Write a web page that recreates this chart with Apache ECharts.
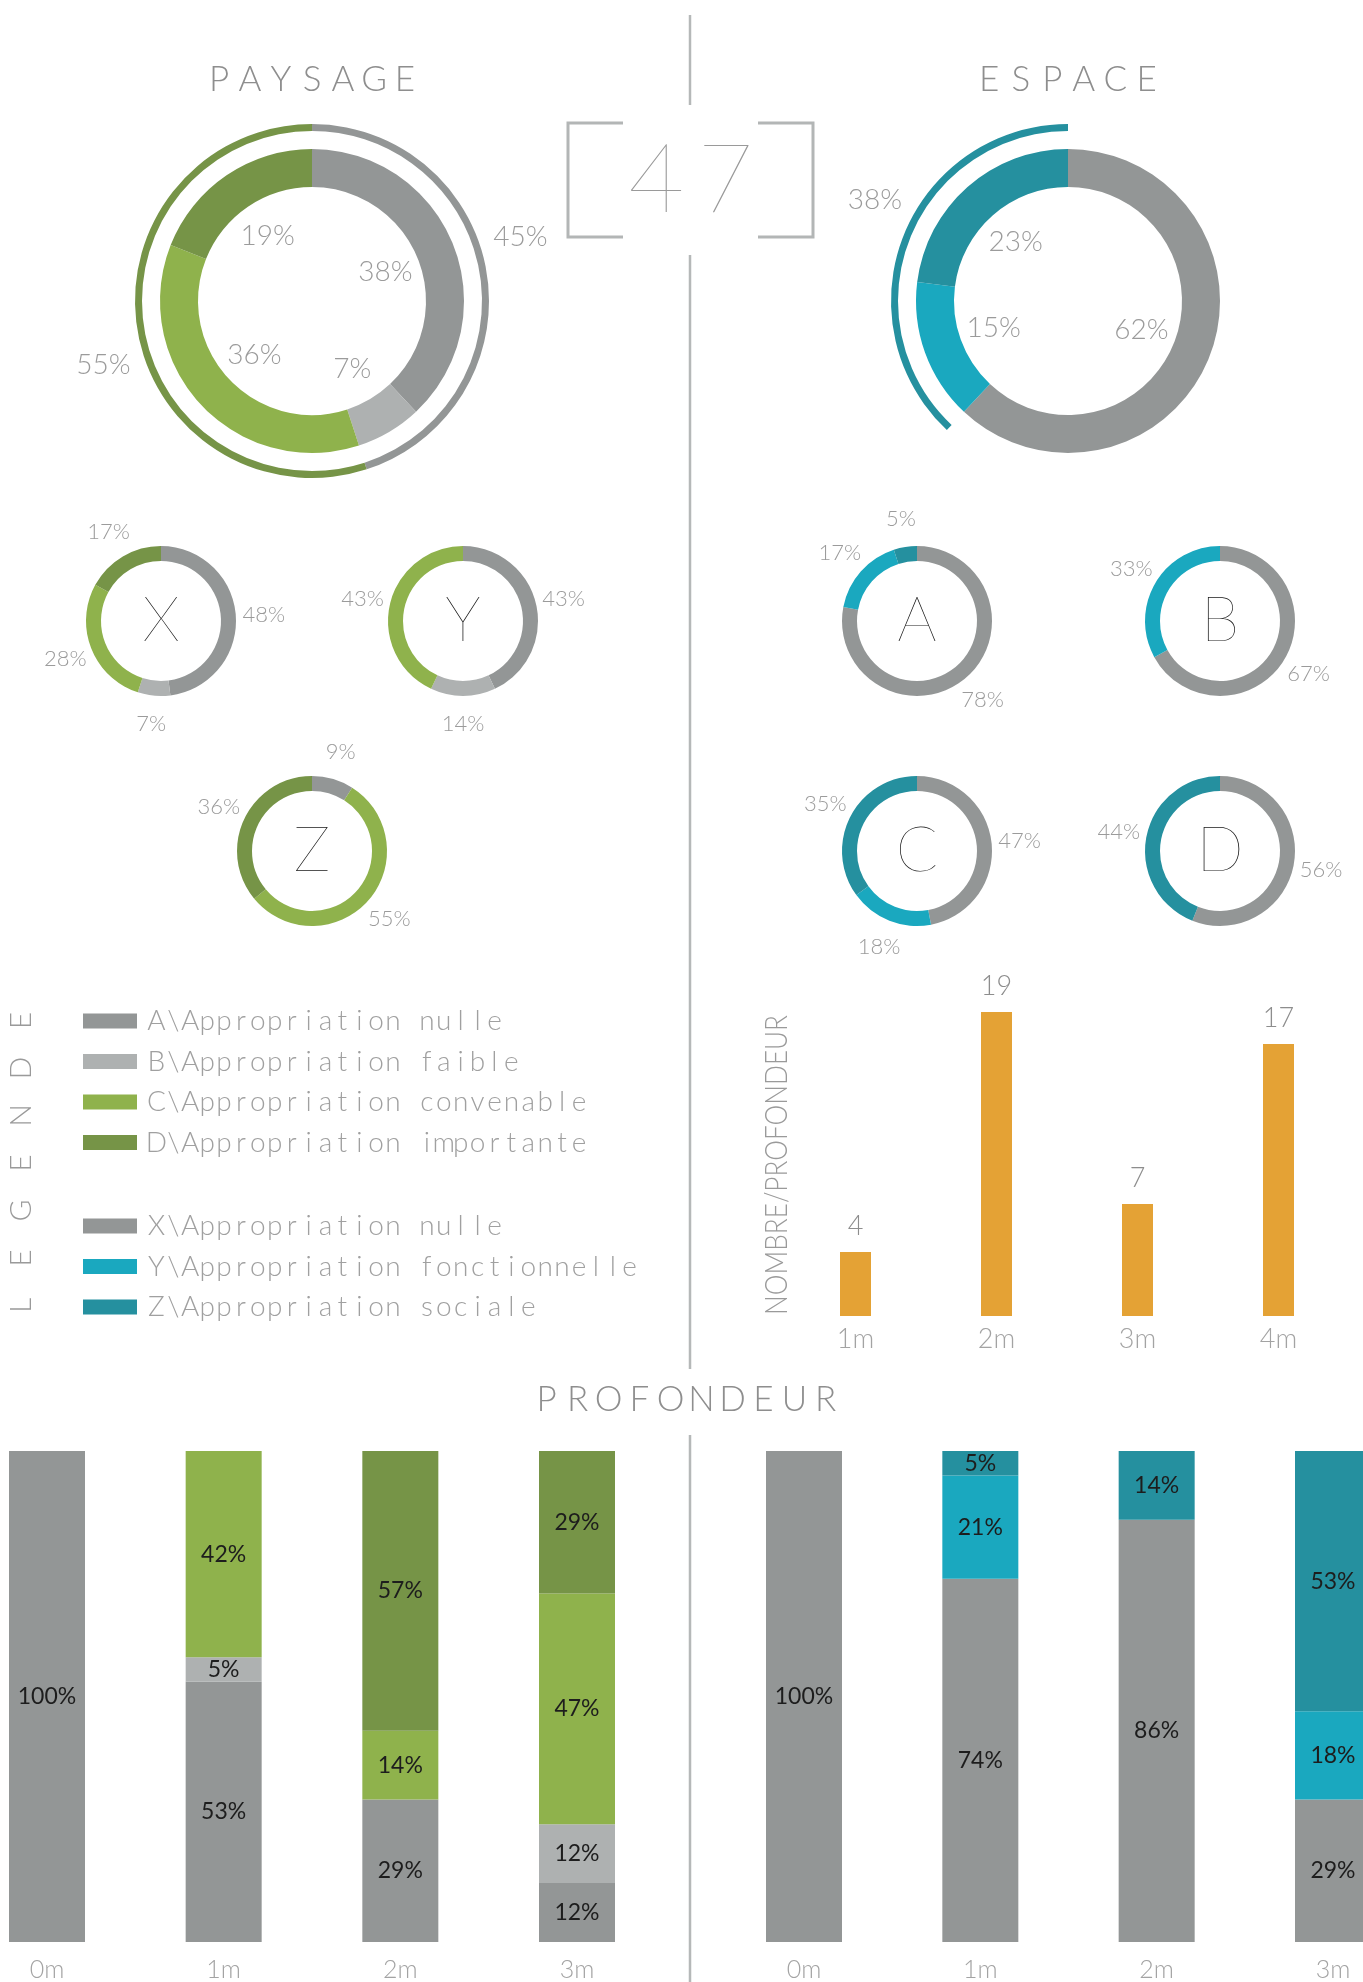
<!DOCTYPE html>
<html>
<head>
<meta charset="utf-8">
<title>Paysage / Espace / Profondeur</title>
<script src="https://cdn.jsdelivr.net/npm/echarts@6/dist/echarts.min.js"></script>
<style>
  html, body { margin: 0; padding: 0; background: #ffffff; }
  #chart { width: 1363px; height: 1982px; }
</style>
</head>
<body>
<div id="chart"></div>
<script>
// ---------- Data ----------
const PAYSAGE_CATS = [
  'A\\Appropriation nulle',
  'B\\Appropriation faible',
  'C\\Appropriation convenable',
  'D\\Appropriation importante'
];
const ESPACE_CATS = [
  'X\\Appropriation nulle',
  'Y\\Appropriation fonctionnelle',
  'Z\\Appropriation sociale'
];

// Overall shares (%)
const paysageTotal = [38, 7, 36, 19];
const paysageGroupNames = ['A+B', 'C+D'];
const paysageGrouped = [45, 55];
const espaceTotal = [62, 15, 23];
const espaceGroupNames = ['X', 'Y+Z'];
const espaceGrouped = [62, 38];

// Shares per site (%)
const paysageSites = ['X', 'Y', 'Z'];
const paysageSiteX = [48, 7, 28, 17];
const paysageSiteY = [43, 14, 43, 0];
const paysageSiteZ = [9, 0, 55, 36];
const espaceSites = ['A', 'B', 'C', 'D'];
const espaceSiteA = [78, 17, 5];
const espaceSiteB = [67, 33, 0];
const espaceSiteC = [47, 18, 35];
const espaceSiteD = [56, 0, 44];

// Number of cases per depth
const depthCats = ['1m', '2m', '3m', '4m'];
const depthCounts = [4, 19, 7, 17];

// Shares per depth (%)
const depthLevels = ['0m', '1m', '2m', '3m'];
const paysageNulle = [100, 53, 29, 12];
const paysageFaible = [0, 5, 0, 12];
const paysageConvenable = [0, 42, 14, 47];
const paysageImportante = [0, 0, 57, 29];
const espaceNulle = [100, 74, 86, 29];
const espaceFonctionnelle = [0, 21, 0, 18];
const espaceSociale = [0, 5, 14, 53];

// ---------- Styles ----------
const C_NULLE = '#939696';
const C_FAIBLE = '#aeb1b1';
const C_CONV = '#8fb24c';
const C_IMP = '#769447';
const C_FONC = '#1aa8bf';
const C_SOC = '#25909f';
const C_ORANGE = '#e4a235';
const NONE = 'rgba(0,0,0,0)';
const PAYSAGE_COLORS = [C_NULLE, C_FAIBLE, C_CONV, C_IMP];
const ESPACE_COLORS = [C_NULLE, C_FONC, C_SOC];
const FONT = 'Lato, "Open Sans", Roboto, sans-serif';
const TXT = '#9b9b9b';
const RULE = '#b5b8b8';

// ---------- Layout ----------
const MAIN_CENTER = { paysage: [312, 301], espace: [1068, 301] };
const MAIN_R = { inner: [114, 152], outer: [170, 177], innerLabel: 76, outerLabel: 215 };
const SITE_CENTER = {
  X: [161, 621], Y: [463, 621], Z: [312, 851],
  A: [917, 621], B: [1220, 621], C: [917, 851], D: [1220, 851]
};
const SITE_R = { ring: [60, 75], label: 100 };

// ---------- Builders ----------
const pct = p => (p.value ? p.value + '%' : '');

function ring(name, center, radius, values, names, colors) {
  return {
    type: 'pie', name, center, radius,
    startAngle: 90, clockwise: true, silent: true, animation: false,
    avoidLabelOverlap: false,
    label: { show: false }, labelLine: { show: false },
    emphasis: { disabled: true },
    itemStyle: { borderWidth: 0 },
    data: values.map((v, i) => ({ name: names[i], value: v, itemStyle: { color: colors[i] } }))
  };
}

// An invisible thin ring whose inside labels sit at radius r, at each slice's mid-angle
function ringLabels(name, center, r, values, names, fontSize, opts) {
  opts = opts || {};
  return {
    type: 'pie', name, center, radius: [r - 1, r + 1],
    startAngle: opts.startAngle != null ? opts.startAngle : 90,
    clockwise: true, silent: true, animation: false,
    avoidLabelOverlap: false,
    emphasis: { disabled: true },
    itemStyle: { color: NONE, borderWidth: 0 },
    labelLine: { show: false },
    label: {
      show: true, position: 'inside', rotate: 0, formatter: pct,
      fontFamily: FONT, fontWeight: 300, fontSize, color: TXT
    },
    data: values.map((v, i) => {
      const d = { name: names[i], value: v };
      if (opts.hidden && opts.hidden.indexOf(i) >= 0) d.label = { show: false };
      return d;
    })
  };
}

function stackSeries(name, data, color, axis, stack) {
  return {
    type: 'bar', name, data, stack,
    xAxisIndex: axis, yAxisIndex: axis,
    barWidth: 76, clip: false, silent: true, animation: false,
    itemStyle: { color },
    label: {
      show: true, position: 'inside', formatter: pct,
      fontFamily: FONT, fontWeight: 400, fontSize: 23, color: '#1d1d1d'
    }
  };
}

const richChars = (str, key) => str.split('').map(c => '{' + key + '|' + c + '}').join('');

function spacedText(str, x, y, pitch, fontSize, color, weight, rotation) {
  return {
    type: 'text', x, y, rotation: rotation || 0, silent: true,
    style: {
      text: richChars(str, 'c'),
      align: 'center', verticalAlign: 'middle',
      rich: { c: { width: pitch, align: 'center', fontSize, fontFamily: FONT, fontWeight: weight, fill: color } }
    }
  };
}

function measure(text, font) {
  const ctx = document.createElement('canvas').getContext('2d');
  ctx.font = font;
  return ctx.measureText(text).width;
}

// ---------- Series ----------
const series = [];
series.push(ring('paysage', MAIN_CENTER.paysage, MAIN_R.inner, paysageTotal, PAYSAGE_CATS, PAYSAGE_COLORS));
series.push(ring('espace', MAIN_CENTER.espace, MAIN_R.inner, espaceTotal, ESPACE_CATS, ESPACE_COLORS));
series.push(ringLabels('paysage-labels', MAIN_CENTER.paysage, MAIN_R.innerLabel, paysageTotal, PAYSAGE_CATS, 28));
series.push(ringLabels('espace-labels', MAIN_CENTER.espace, MAIN_R.innerLabel, espaceTotal, ESPACE_CATS, 28));
series.push(ring('paysage-groupes', MAIN_CENTER.paysage, MAIN_R.outer, paysageGrouped, paysageGroupNames, [C_NULLE, C_IMP]));
series.push(ring('espace-groupes', MAIN_CENTER.espace, MAIN_R.outer, espaceGrouped, espaceGroupNames, [NONE, C_SOC]));
series.push(ringLabels('paysage-groupes-labels', MAIN_CENTER.paysage, MAIN_R.outerLabel, paysageGrouped, paysageGroupNames, 28, { startAngle: 98 }));
series.push(ringLabels('espace-groupes-labels', MAIN_CENTER.espace, MAIN_R.outerLabel, espaceGrouped, espaceGroupNames, 28, { startAngle: 84, hidden: [0] }));

const paysageSiteData = { X: paysageSiteX, Y: paysageSiteY, Z: paysageSiteZ };
paysageSites.forEach(s => {
  series.push(ring('site ' + s, SITE_CENTER[s], SITE_R.ring, paysageSiteData[s], PAYSAGE_CATS, PAYSAGE_COLORS));
  series.push(ringLabels('site ' + s + ' labels', SITE_CENTER[s], SITE_R.label, paysageSiteData[s], PAYSAGE_CATS, 22));
});
const espaceSiteData = { A: espaceSiteA, B: espaceSiteB, C: espaceSiteC, D: espaceSiteD };
espaceSites.forEach(s => {
  series.push(ring('site ' + s, SITE_CENTER[s], SITE_R.ring, espaceSiteData[s], ESPACE_CATS, ESPACE_COLORS));
  series.push(ringLabels('site ' + s + ' labels', SITE_CENTER[s], SITE_R.label, espaceSiteData[s], ESPACE_CATS, 22));
});

// Count per depth
series.push({
  type: 'bar', name: 'nombre', data: depthCounts,
  xAxisIndex: 0, yAxisIndex: 0, barWidth: 31, silent: true, animation: false,
  itemStyle: { color: C_ORANGE },
  label: { show: true, position: 'top', distance: 12, fontFamily: FONT, fontWeight: 300, fontSize: 27, color: '#8d8d8d' }
});

// Shares per depth
series.push(stackSeries(PAYSAGE_CATS[0], paysageNulle, C_NULLE, 1, 'paysage'));
series.push(stackSeries(PAYSAGE_CATS[1], paysageFaible, C_FAIBLE, 1, 'paysage'));
series.push(stackSeries(PAYSAGE_CATS[2], paysageConvenable, C_CONV, 1, 'paysage'));
series.push(stackSeries(PAYSAGE_CATS[3], paysageImportante, C_IMP, 1, 'paysage'));
series.push(stackSeries(ESPACE_CATS[0], espaceNulle, C_NULLE, 2, 'espace'));
series.push(stackSeries(ESPACE_CATS[1], espaceFonctionnelle, C_FONC, 2, 'espace'));
series.push(stackSeries(ESPACE_CATS[2], espaceSociale, C_SOC, 2, 'espace'));

// ---------- Axes ----------
const hiddenLine = { show: false };
const catAxis = (gridIndex, data, boundaryGap, fontSize, margin) => ({
  type: 'category', gridIndex, data, boundaryGap,
  axisLine: hiddenLine, axisTick: hiddenLine, splitLine: hiddenLine,
  axisLabel: { fontFamily: FONT, fontWeight: 300, fontSize, color: '#a3a3a3', margin }
});
const valAxis = (gridIndex, max) => ({ type: 'value', gridIndex, min: 0, max, show: false });

// ---------- Decoration / text ----------
const totalCount = depthCounts.reduce((a, b) => a + b, 0);
const yName = 'NOMBRE/PROFONDEUR';
const yNameFont = '300 32px Lato';
const yNameScale = 300 / measure(yName, yNameFont);

const graphic = [
  // central rule
  { type: 'line', silent: true, shape: { x1: 690, y1: 15, x2: 690, y2: 105 }, style: { stroke: RULE, lineWidth: 2.5 } },
  { type: 'line', silent: true, shape: { x1: 690, y1: 255, x2: 690, y2: 1369 }, style: { stroke: RULE, lineWidth: 2.5 } },
  { type: 'line', silent: true, shape: { x1: 690, y1: 1435, x2: 690, y2: 1982 }, style: { stroke: RULE, lineWidth: 2.5 } },
  // bracketed total
  { type: 'polyline', silent: true, shape: { points: [[623, 123], [568, 123], [568, 237], [623, 237]] }, style: { stroke: '#b3b6b6', lineWidth: 3, fill: null } },
  { type: 'polyline', silent: true, shape: { points: [[758, 123], [813, 123], [813, 237], [758, 237]] }, style: { stroke: '#b3b6b6', lineWidth: 3, fill: null } },
  spacedText(String(totalCount), 691, 181, 69, 97, '#9a9a9a', 100),
  // titles
  spacedText('PAYSAGE', 312, 80, 31, 35, '#8e8e8e', 300),
  spacedText('ESPACE', 1068, 80, 31.5, 35, '#8e8e8e', 300),
  spacedText('PROFONDEUR', 686, 1400, 31, 35, '#8e8e8e', 300),
  spacedText('LEGENDE', 21, 1163, 47.5, 30, '#9a9a9a', 300, Math.PI / 2),
  // depth chart axis title
  {
    type: 'text', x: 777, y: 1165, rotation: Math.PI / 2, scaleX: yNameScale, silent: true,
    style: { text: yName, font: yNameFont, fill: '#9a9a9a', align: 'center', verticalAlign: 'middle' }
  }
];
// site letters at ring centres
paysageSites.concat(espaceSites).forEach(s => {
  graphic.push({
    type: 'text', x: SITE_CENTER[s][0], y: SITE_CENTER[s][1], silent: true,
    style: { text: s, font: '100 62px Lato', fill: '#151515', align: 'center', verticalAlign: 'middle' }
  });
});

// ---------- Legend ----------
const legendBase = {
  orient: 'vertical', left: 83, padding: 0,
  itemWidth: 54, itemHeight: 15, itemGap: 12.5, icon: 'rect',
  selectedMode: false,
  formatter: name => richChars(name, 'c'),
  textStyle: {
    padding: [0, 0, 0, 6],
    rich: { c: { width: 16.9, align: 'center', fontFamily: FONT, fontWeight: 300, fontSize: 28, lineHeight: 26, color: '#a0a0a0' } }
  }
};

const option = {
  backgroundColor: '#ffffff',
  animation: false,
  textStyle: { fontFamily: FONT },
  legend: [
    Object.assign({}, legendBase, { top: 1007, data: PAYSAGE_CATS }),
    Object.assign({}, legendBase, { top: 1212, data: ESPACE_CATS })
  ],
  grid: [
    { left: 785, width: 564, top: 996, height: 320 },
    { left: 47, width: 530, top: 1451, height: 492 },
    { left: 804, width: 529, top: 1451, height: 492 }
  ],
  xAxis: [
    catAxis(0, depthCats, true, 27, 10),
    catAxis(1, depthLevels, false, 25, 15),
    catAxis(2, depthLevels, false, 25, 15)
  ],
  yAxis: [valAxis(0, 20), valAxis(1, 100), valAxis(2, 100)],
  graphic,
  series
};

const chart = echarts.init(document.getElementById('chart'), null, { renderer: 'canvas', width: 1363, height: 1982 });
chart.setOption(option);
</script>
</body>
</html>
